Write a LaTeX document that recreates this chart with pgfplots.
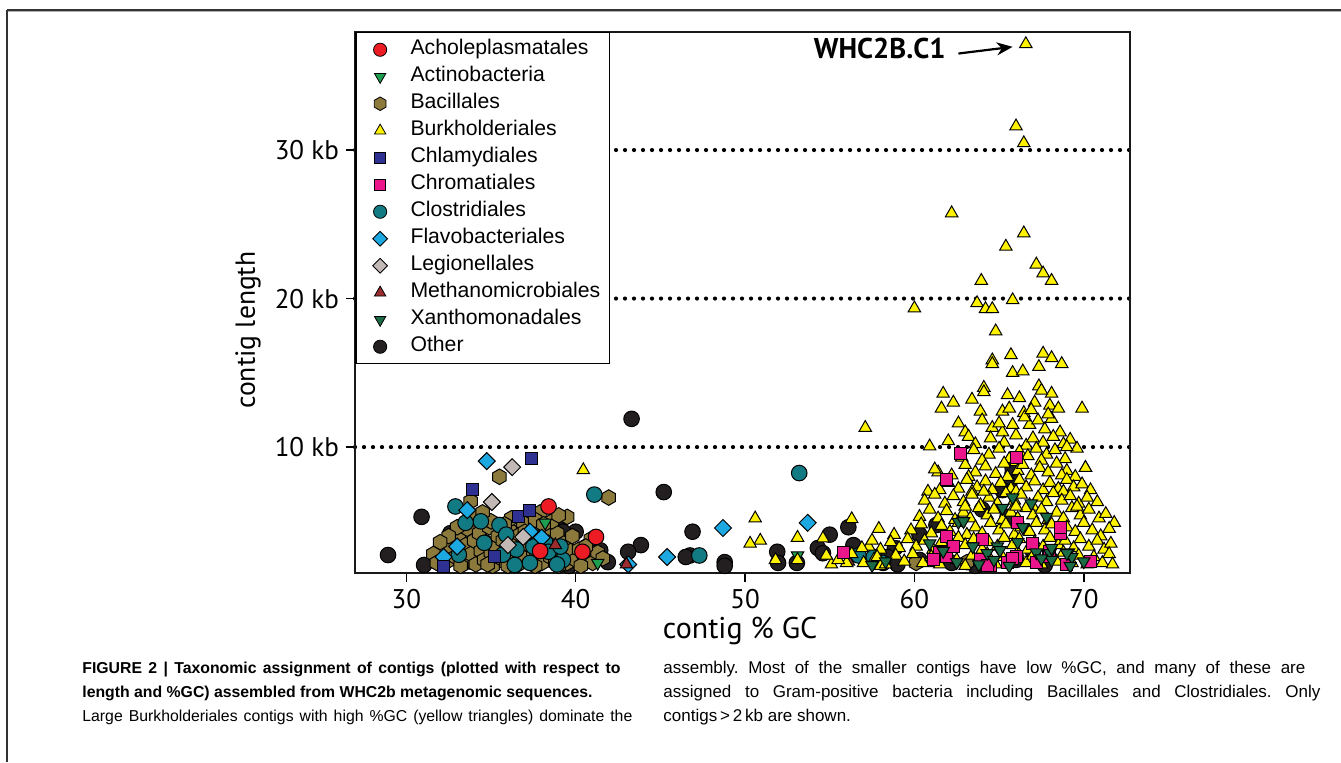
\documentclass[border=0pt]{standalone}
\usepackage{pgfplots}
\pgfplotsset{compat=1.18}
\usepackage{fontspec}
\setmainfont{Liberation Sans}
\newfontfamily\ptsans{PT Sans}
\usetikzlibrary{arrows.meta}
\frenchspacing
\definecolor{cAch}{HTML}{ED1C24}
\definecolor{cAct}{HTML}{1E9F4F}
\definecolor{cBac}{HTML}{8C7A3C}
\definecolor{cBur}{HTML}{FFF200}
\definecolor{cChl}{HTML}{2E3192}
\definecolor{cChr}{HTML}{EC168C}
\definecolor{cClo}{HTML}{117A82}
\definecolor{cFla}{HTML}{1CA8E0}
\definecolor{cLeg}{HTML}{C2B9B6}
\definecolor{cMet}{HTML}{9B2D2F}
\definecolor{cXan}{HTML}{1B6B46}
\definecolor{cOth}{HTML}{231F20}
\pgfdeclareplotmark{hexagon*}{%
  \pgfpathmoveto{\pgfpointpolar{90}{\pgfplotmarksize}}%
  \pgfpathlineto{\pgfpointpolar{150}{\pgfplotmarksize}}%
  \pgfpathlineto{\pgfpointpolar{210}{\pgfplotmarksize}}%
  \pgfpathlineto{\pgfpointpolar{270}{\pgfplotmarksize}}%
  \pgfpathlineto{\pgfpointpolar{330}{\pgfplotmarksize}}%
  \pgfpathlineto{\pgfpointpolar{30}{\pgfplotmarksize}}%
  \pgfpathclose
  \pgfusepathqfillstroke
}
\begin{document}
\begin{tikzpicture}
\useasboundingbox (0,0) rectangle (670.5pt,381pt);
\draw[line width=0.8pt, black!80] (3.5pt,376pt) -- (670.5pt,376pt);
\draw[line width=0.5pt, black!30] (3.5pt,375.2pt) -- (670.5pt,375.2pt);
\draw[line width=0.6pt, black!80] (3.5pt,376pt) -- (3.5pt,0pt);
\begin{axis}[
  at={(177.5pt,94.5pt)}, anchor=south west,
  scale only axis, width=387.5pt, height=270.5pt,
  xmin=26.97, xmax=72.73, ymin=1.52, ymax=37.95,
  xtick={30,40,50,60,70}, xticklabels={30,40,50,60,70},
  ytick={10,20,30}, yticklabels={10 kb,20 kb,30 kb},
  tick align=outside, tick pos=left,
  major tick length=4.5pt,
  tick style={line width=0.8pt, black},
  axis line style={line width=0.8pt, black!90},
  ticklabel style={font=\ptsans\fontsize{13.5}{14}\selectfont},
  ymajorgrids, major grid style={line width=2.1pt, dash pattern=on 0pt off 4.5pt, line cap=round, black},
  xlabel={contig \% GC}, ylabel={contig length},
  xlabel style={font=\ptsans\fontsize{15}{17}\selectfont, at={(axis description cs:0.497,-0.107)}, anchor=center},
  ylabel style={font=\ptsans\fontsize{13.8}{16}\selectfont, at={(axis description cs:-0.138,0.449)}, anchor=center},
  legend cell align=left,
  legend image code/.code={\path (0pt,0pt) (16pt,0pt); \draw[mark repeat=2,mark phase=2,#1] plot coordinates {(0pt,0pt) (8pt,0pt) (16pt,0pt)};},
  legend style={at={(0,1)}, anchor=north west, draw=black, line width=0.75pt, fill=white,
    inner xsep=4pt, inner ysep=3pt, font=\fontsize{10.6}{12}\selectfont, row sep=2.5pt,
    nodes={inner sep=0.5pt, text height=7.6pt, text depth=2.4pt},
    /tikz/every odd column/.append style={column sep=6.5pt}},
]
\addlegendimage{only marks, mark=*, draw=black, fill=cAch, mark size=3.3pt, line width=0.4pt}
\addlegendentry{Acholeplasmatales}
\addlegendimage{only marks, mark=triangle*, mark options={rotate=180}, draw=black, fill=cAct, mark size=3.3pt, line width=0.4pt}
\addlegendentry{Actinobacteria}
\addlegendimage{only marks, mark=hexagon*, draw=black, fill=cBac, mark size=3.4pt, line width=0.4pt}
\addlegendentry{Bacillales}
\addlegendimage{only marks, mark=triangle*, draw=black, fill=cBur, mark size=3.3pt, line width=0.4pt}
\addlegendentry{Burkholderiales}
\addlegendimage{only marks, mark=square*, draw=black, fill=cChl, mark size=2.8pt, line width=0.4pt}
\addlegendentry{Chlamydiales}
\addlegendimage{only marks, mark=square*, draw=black, fill=cChr, mark size=2.8pt, line width=0.4pt}
\addlegendentry{Chromatiales}
\addlegendimage{only marks, mark=*, draw=black, fill=cClo, mark size=3.3pt, line width=0.4pt}
\addlegendentry{Clostridiales}
\addlegendimage{only marks, mark=square*, mark options={rotate=45}, draw=black, fill=cFla, mark size=2.6pt, line width=0.4pt}
\addlegendentry{Flavobacteriales}
\addlegendimage{only marks, mark=square*, mark options={rotate=45}, draw=black, fill=cLeg, mark size=2.6pt, line width=0.4pt}
\addlegendentry{Legionellales}
\addlegendimage{only marks, mark=triangle*, draw=black, fill=cMet, mark size=3.3pt, line width=0.4pt}
\addlegendentry{Methanomicrobiales}
\addlegendimage{only marks, mark=triangle*, mark options={rotate=180}, draw=black, fill=cXan, mark size=3.3pt, line width=0.4pt}
\addlegendentry{Xanthomonadales}
\addlegendimage{only marks, mark=*, draw=black, fill=cOth, mark size=3.3pt, line width=0.4pt}
\addlegendentry{Other}
% Other
\addplot[forget plot, only marks, mark=*, draw=black, fill=cOth, mark size=3.9pt, line width=0.5pt] coordinates {
(28.92,2.73)(30.9,5.3)(31.05,2.06)(43.3,11.9)(45.2,6.97)(46.9,4.3)(43.85,3.4)(43.1,2.95)(41.9,2.25)(41.45,3.05)
(38.9,4.9)(32.6,4.2)(46.75,2.7)(48.8,2.25)(48.8,2.0)(51.9,2.95)(51.95,2.2)(53.06,2.2)(54.3,3.2)(55.0,4.1)
(56.1,4.6)(56.4,3.4)(54.6,2.85)(58.85,3.2)(60.3,4.1)(61.3,4.75)(65.8,8.25)(65.8,8.6)(65.6,7.5)(61.5,2.5)
(60.3,2.4)(58.4,2.6)(67.7,2.05)(65.5,5.3)(59.0,2.1)(62.2,2.2)(63.6,2.0)(66.0,2.4)(64.0,5.8)(65.2,7.1)
(67.0,3.0)(61.9,3.4)(40.0,4.3)(37.7,2.1)(39.6,2.0)(33.7,2.3)(46.5,2.6)(38.8,4.8)(39.25,4.3)
};
% Bacillales
\addplot[forget plot, only marks, mark=hexagon*, draw=black, fill=cBac, mark size=3.9pt, line width=0.5pt] coordinates {
(32.4,2.3)(32.6,3.2)(32.9,2.6)(33.1,3.9)(33.3,2.2)(33.5,3.4)(33.6,4.5)(33.8,2.8)(34.0,3.7)(34.1,2.1)
(34.3,4.2)(34.4,3.0)(34.6,2.4)(34.7,3.6)(34.9,4.6)(35.0,2.9)(35.1,2.0)(35.3,3.3)(35.4,4.0)(35.6,2.5)
(35.7,3.7)(35.9,2.2)(36.0,3.1)(36.1,4.4)(36.3,2.7)(36.4,3.6)(36.6,2.1)(36.7,4.1)(36.8,3.0)(37.0,2.5)
(37.1,3.5)(37.3,2.2)(37.4,4.6)(37.5,3.0)(37.7,2.6)(37.8,3.9)(37.9,5.6)(38.0,2.2)(38.2,3.3)(38.3,4.4)
(38.5,2.6)(38.6,3.6)(38.8,2.2)(38.9,4.2)(39.0,3.0)(39.2,2.5)(39.3,3.5)(39.5,5.3)(39.5,2.2)(39.7,3.0)
(39.8,4.0)(40.0,2.4)(40.2,3.1)(40.5,2.6)(40.7,3.4)(41.0,2.2)(41.3,2.9)(41.95,6.6)(35.5,8.0)(33.8,6.35)
(34.0,5.3)(33.0,4.6)(32.5,4.0)(36.9,4.9)(36.2,5.2)(37.6,5.1)(38.6,5.0)(39.0,5.4)(35.0,5.0)(35.8,4.8)
(34.5,5.6)(32.0,3.6)(31.6,2.8)(31.8,2.2)(33.2,2.0)(34.8,2.1)(36.0,2.0)(37.6,2.0)(39.0,2.0)(40.3,2.0)
(38.1,4.8)(37.0,4.3)(40.9,3.8)(60.1,2.2)(63.1,2.25)(40.6,3.3)(41.6,2.5)
};
% Clostridiales
\addplot[forget plot, only marks, mark=*, draw=black, fill=cClo, mark size=3.9pt, line width=0.5pt] coordinates {
(53.2,8.25)(47.3,2.7)(56.7,2.7)(58.15,2.2)(41.1,6.8)(32.9,6.0)(34.4,5.0)(35.5,4.75)(35.9,4.1)(36.5,3.1)
(37.5,3.3)(38.2,3.6)(38.4,2.95)(39.25,2.4)(35.7,2.75)(33.1,2.75)(34.6,3.55)(36.4,2.06)(37.3,2.2)(39.1,3.3)
(33.5,4.9)(38.9,2.1)(57.6,2.6)(64.0,2.3)
};
% Flavobacteriales
\addplot[forget plot, only marks, mark=square*, mark options={rotate=45}, draw=black, fill=cFla, mark size=3pt, line width=0.5pt] coordinates {
(34.75,9.05)(33.6,5.75)(45.4,2.6)(37.3,4.3)(32.2,2.6)(43.1,2.1)(48.7,4.55)(53.7,4.9)(38.0,3.9)(33.0,3.3)
};
% Legionellales
\addplot[forget plot, only marks, mark=square*, mark options={rotate=45}, draw=black, fill=cLeg, mark size=3pt, line width=0.5pt] coordinates {
(36.25,8.65)(35.05,6.3)(36.9,3.95)(36.0,3.4)
};
% Chlamydiales
\addplot[forget plot, only marks, mark=square*, draw=black, fill=cChl, mark size=3pt, line width=0.5pt] coordinates {
(37.4,9.25)(33.9,7.15)(36.65,5.3)(37.3,5.75)(32.2,1.95)(35.2,2.6)
};
% Acholeplasmatales
\addplot[forget plot, only marks, mark=*, draw=black, fill=cAch, mark size=3.9pt, line width=0.5pt] coordinates {
(38.4,6.0)(41.2,3.95)(40.4,2.95)(37.9,3.0)
};
% Actinobacteria
\addplot[forget plot, only marks, mark=triangle*, mark options={rotate=180}, draw=black, fill=cAct, mark size=3.6pt, line width=0.5pt] coordinates {
(38.2,4.9)(41.3,2.2)(53.1,2.7)
};
% Methanomicrobiales
\addplot[forget plot, only marks, mark=triangle*, draw=black, fill=cMet, mark size=3.6pt, line width=0.5pt] coordinates {
(43.0,2.1)(56.1,2.3)(61.3,2.2)(38.8,3.4)
};
% Burkholderiales
\addplot[forget plot, only marks, mark=triangle*, draw=black, fill=cBur, mark size=3.6pt, line width=0.5pt] coordinates {
(66.58,37.14)(66.0,31.6)(66.46,30.47)(62.2,25.75)(66.46,24.4)(65.4,23.5)(67.2,22.3)(67.6,21.7)(68.1,21.2)(63.95,21.2)
(60.0,19.35)(63.7,19.7)(64.2,19.3)(64.6,19.3)(65.8,19.9)(64.8,17.8)(64.6,15.85)(64.6,15.6)(65.7,16.2)(65.8,15.0)
(66.4,15.1)(67.6,16.3)(68.1,16.0)(68.7,15.6)(67.35,15.4)(64.1,14.0)(64.1,13.7)(61.7,13.6)(61.6,12.6)(62.3,13.0)
(63.4,13.2)(63.9,12.4)(67.35,14.1)(68.1,13.6)(67.1,13.0)(68.0,12.8)(68.5,12.6)(69.9,12.6)(65.2,12.4)(65.6,12.6)
(66.46,12.3)(62.6,11.6)(63.0,11.0)(63.2,10.7)(64.6,11.3)(65.2,11.0)(66.8,11.5)(67.3,11.8)(68.1,11.9)(68.6,11.0)
(69.2,10.5)(57.1,11.3)(60.9,10.05)(70.1,8.6)(71.8,4.9)(61.4,8.3)
(40.45,8.45)(50.6,5.2)(50.9,3.7)(50.3,3.5)(53.1,3.9)(56.3,5.15)(54.6,3.85)(55.1,2.1)(51.8,2.4)(57.3,3.3)
(57.6,2.4)(58.0,2.0)(56.0,2.2)(54.8,2.7)(53.1,2.4)
(62.0,10.4)(63.6,10.2)(64.5,10.6)(65.3,10.3)(66.0,10.8)(66.6,10.1)(67.0,10.6)(67.6,10.3)(68.2,10.7)(68.8,10.2)
(65.8,11.5)(66.5,12.0)(67.7,11.2)(64.0,11.8)(65.0,11.6)(66.9,12.5)(67.9,12.2)(65.5,13.5)(66.2,13.3)(67.5,13.8)
(62.8,9.3)(63.5,9.8)(64.4,9.5)(65.0,9.9)(65.6,9.2)(66.2,9.7)(66.7,9.4)(67.2,9.9)(67.8,9.5)(68.3,9.8)
(68.9,9.2)(69.6,9.9)(64.0,9.1)(66.0,9.0)(67.5,9.1)(69.0,10.0)
(61.2,8.5)(62.2,8.1)(63.0,8.8)(63.6,8.3)(64.2,8.7)(64.8,8.2)(65.3,8.9)(66.1,8.4)(66.4,8.8)(66.9,8.1)
(67.4,8.6)(67.9,8.3)(68.4,8.9)(69.0,8.4)(69.5,8.0)(70.1,8.6)(63.2,8.0)(65.5,8.0)(68.7,8.1)
(61.5,7.1)(62.0,7.6)(62.6,7.2)(63.1,7.8)(63.7,7.3)(64.2,7.7)(64.6,7.1)(65.1,7.6)(65.7,7.2)(66.2,7.8)
(66.6,7.3)(67.1,7.7)(67.6,7.1)(68.0,7.6)(68.5,7.2)(69.0,7.8)(69.4,7.3)(69.9,7.5)(70.4,7.1)(60.8,7.0)
(63.4,7.0)(66.0,7.0)(68.8,7.0)
(60.6,6.4)(61.2,6.8)(61.8,6.2)(62.3,6.7)(62.9,6.3)(63.4,6.8)(63.9,6.1)(64.4,6.6)(64.9,6.2)(65.4,6.9)
(65.9,6.4)(66.3,6.8)(66.8,6.1)(67.3,6.6)(67.8,6.3)(68.2,6.9)(68.7,6.4)(69.2,6.7)(69.7,6.2)(70.2,6.6)
(70.8,6.3)(64.1,7.0)(67.0,6.0)
(60.3,5.3)(60.9,5.8)(61.4,5.2)(61.9,5.7)(62.4,5.1)(62.9,5.6)(63.3,5.2)(63.8,5.9)(64.3,5.4)(64.7,5.8)
(65.2,5.1)(65.7,5.6)(66.1,5.2)(66.6,5.9)(67.0,5.4)(67.5,5.8)(67.9,5.1)(68.4,5.6)(68.8,5.2)(69.3,5.9)
(69.8,5.4)(70.3,5.8)(70.9,5.2)(71.3,5.5)(66.0,6.0)(63.0,6.0)(69.6,6.0)
(59.8,4.4)(60.4,4.8)(61.0,4.2)(61.6,4.7)(62.1,4.3)(62.6,4.9)(63.1,4.1)(63.6,4.6)(64.0,4.2)(64.5,4.9)
(65.0,4.4)(65.4,4.8)(65.9,4.1)(66.3,4.6)(66.8,4.3)(67.2,4.9)(67.7,4.4)(68.1,4.8)(68.6,4.1)(69.0,4.6)
(69.5,4.3)(70.0,4.9)(70.5,4.4)(71.0,4.0)(71.5,4.5)(58.8,4.1)(57.9,4.5)
(56.9,3.2)(57.5,3.7)(58.0,3.1)(58.6,3.6)(59.1,3.2)(59.6,3.8)(60.1,3.3)(60.6,3.7)(61.1,3.1)(61.6,3.6)
(62.1,3.2)(62.6,3.9)(63.0,3.4)(63.5,3.8)(64.0,3.1)(64.4,3.6)(64.9,3.3)(65.3,3.9)(65.8,3.4)(66.2,3.8)
(66.7,3.1)(67.1,3.6)(67.6,3.3)(68.0,3.9)(68.5,3.4)(68.9,3.7)(69.4,3.2)(69.8,3.8)(70.3,3.3)(70.8,3.7)
(71.2,3.1)(71.6,3.5)
(55.5,2.4)(56.3,2.8)(57.0,2.2)(57.8,2.6)(58.3,2.1)(58.9,2.7)(59.4,2.3)(59.9,2.8)(60.5,2.2)(61.0,2.6)
(61.5,2.1)(62.0,2.8)(62.5,2.4)(63.0,2.0)(63.4,2.7)(63.9,2.3)(64.3,2.8)(64.8,2.1)(65.2,2.6)(65.7,2.3)
(66.1,2.9)(66.6,2.2)(67.0,2.7)(67.5,2.1)(67.9,2.6)(68.4,2.3)(68.8,2.9)(69.3,2.2)(69.7,2.7)(70.2,2.1)
(70.6,2.6)(71.1,2.2)(71.5,2.8)(71.7,2.1)
};
% Chromatiales
\addplot[forget plot, only marks, mark=square*, draw=black, fill=cChr, mark size=3pt, line width=0.5pt] coordinates {
(62.7,9.6)(66.0,9.3)(61.9,7.8)(66.1,4.95)(61.9,4.0)(64.05,3.75)(67.0,3.5)(68.65,4.2)(68.6,4.6)(61.5,2.9)
(61.9,2.6)(61.1,2.4)(63.9,2.4)(65.5,2.2)(66.0,2.6)(67.2,2.2)(70.4,2.3)(67.9,2.6)(64.5,2.0)(68.0,3.0)
(55.8,2.9)(64.3,2.05)(65.8,2.5)(69.0,2.1)(62.3,3.3)
};
% Xanthomonadales
\addplot[forget plot, only marks, mark=triangle*, mark options={rotate=180}, draw=black, fill=cXan, mark size=3.6pt, line width=0.5pt] coordinates {
(65.8,6.6)(65.2,5.9)(66.9,6.2)(66.4,4.6)(62.6,4.95)(60.9,3.5)(63.45,3.3)(64.9,3.3)(67.2,2.9)(68.0,2.85)
(69.1,2.9)(69.3,2.6)(64.3,2.85)(64.7,2.4)(62.5,2.25)(57.5,2.05)(69.2,2.0)(65.6,2.0)(68.1,2.4)(67.5,2.5)
(65.05,3.05)(68.1,3.2)(69.0,2.85)(58.3,2.3)(61.7,3.0)(63.8,2.1)(66.1,3.6)(70.0,2.3)(67.8,5.3)(62.9,5.0)
};
\node[font=\ptsans\bfseries\fontsize{14.3}{15}\selectfont, anchor=center] at (axis cs:57.95,36.87) {WHC2B.C1};
\draw[-{Stealth[length=8pt,width=6.5pt]}, line width=1.1pt] (axis cs:62.6,36.5) -- (axis cs:65.8,36.95);
\end{axis}
\begin{scope}[every node/.style={anchor=base west, inner sep=0pt, font=\fontsize{7.9}{9}\selectfont}]
\node at (41pt,44.5pt) {\makebox[269pt][s]{\bfseries FIGURE 2 | Taxonomic assignment of contigs (plotted with respect to}};
\node at (41pt,32.5pt) {\bfseries length and \%GC) assembled from WHC2b metagenomic sequences.};
\node at (41pt,20.5pt) {\makebox[275pt][s]{Large Burkholderiales contigs with high \%GC (yellow triangles) dominate the}};
\end{scope}
\begin{scope}[every node/.style={anchor=base west, inner sep=0pt, font=\fontsize{8.5}{9}\selectfont}]
\node at (331.5pt,44.5pt) {\makebox[321pt][s]{assembly. Most of the smaller contigs have low \%GC, and many of these are}};
\node at (331.5pt,32.5pt) {\makebox[328.5pt][s]{assigned to Gram-positive bacteria including Bacillales and Clostridiales. Only}};
\node at (331.5pt,20.5pt) {contigs\,>\,2\,kb are shown.};
\end{scope}
\end{tikzpicture}
\end{document}
